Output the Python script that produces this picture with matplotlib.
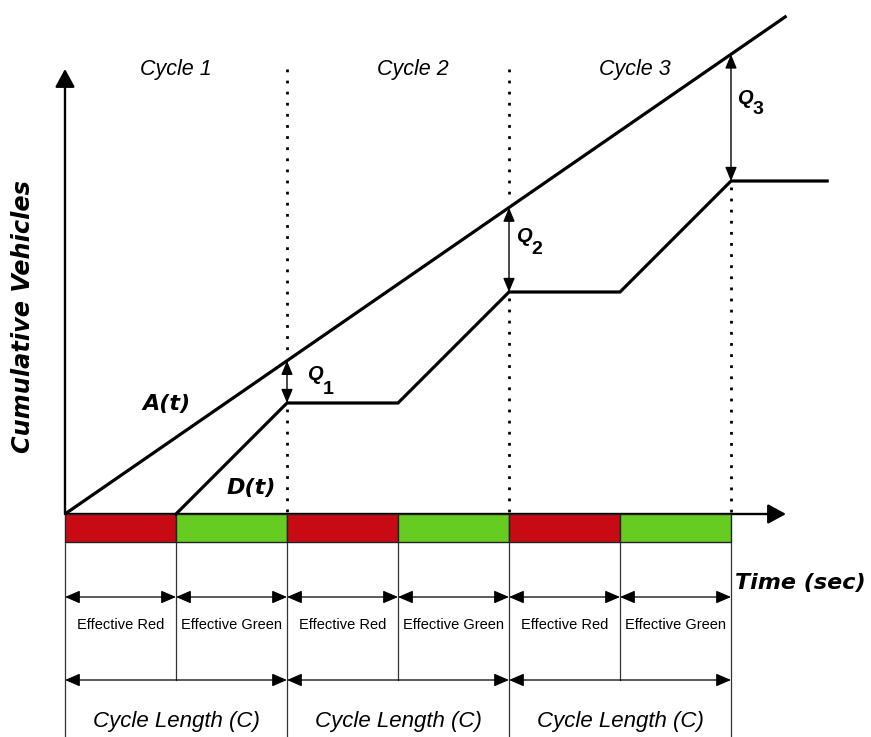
import matplotlib
matplotlib.use("Agg")
import matplotlib.pyplot as plt
from matplotlib.patches import Rectangle

# ---------------- data ----------------
cycle_length = 60          # sec
red_time = 30              # effective red (sec)
green_time = 30            # effective green (sec)
n_cycles = 3
cycle_labels = ["Cycle 1", "Cycle 2", "Cycle 3"]
phase_names = ["Effective Red", "Effective Green"]
phase_colors = ["#C80A14", "#66CC22"]

# arrival curve A(t)
arr_t = [0, 195]
arr_v = [0, 134.6]
# departure curve D(t)
dep_t = [0, 30, 60, 90, 120, 150, 180, 206]
dep_v = [0, 0, 30, 30, 60, 60, 90, 90]
# queue at the end of each cycle (A - D at t = 60, 120, 180)
queue_t = [60, 120, 180]
queue_top = [41.4, 82.8, 124.2]
queue_bot = [30, 60, 90]
queue_labels = ["1", "2", "3"]

# ---------------- figure ----------------
PX = 3.7  # pixels per unit
fig = plt.figure(figsize=(8.71, 7.37), dpi=100)
ax = fig.add_axes([0, 0, 1, 1])
ax.set_xlim((0 - 65) / PX, (871 - 65) / PX)
ax.set_ylim((514 - 737) / PX, (514 - 0) / PX)
ax.axis("off")

def vy(ypx):
    return (514 - ypx) / PX

def tx(xpx):
    return (xpx - 65) / PX

bold_font = ["DejaVu Sans"]
thin_font = ["Liberation Sans"]

# axes arrows
ax.annotate("", xy=(0, vy(69)), xytext=(0, 0),
            arrowprops=dict(arrowstyle="-|>,head_length=0.55,head_width=0.3",
                            mutation_scale=20, lw=1.7, color="black",
                            shrinkA=0, shrinkB=0))
ax.annotate("", xy=(tx(786), 0), xytext=(0, 0),
            arrowprops=dict(arrowstyle="-|>,head_length=0.55,head_width=0.3",
                            mutation_scale=20, lw=1.7, color="black",
                            shrinkA=0, shrinkB=0))

# signal phase bar
bar_h = 28 / PX
for c in range(n_cycles):
    start = c * cycle_length
    for k, (dur, col) in enumerate(zip([red_time, green_time], phase_colors)):
        s = start + (0 if k == 0 else red_time)
        ax.add_patch(Rectangle((s, -bar_h), dur, bar_h, facecolor=col,
                               edgecolor="#222222", lw=1.0, zorder=3))

# curves (D(t) drawn from the end of the first red, where it leaves the axis)
ax.plot(arr_t, arr_v, color="black", lw=2.3, solid_capstyle="butt", zorder=4)
ax.plot(dep_t[1:], dep_v[1:], color="black", lw=2.3, solid_joinstyle="miter",
        zorder=4)

# dotted cycle boundaries
for qt, top, bot in zip(queue_t, queue_top, queue_bot):
    ax.plot([qt, qt], [bot - 1.5, 0], color="black", lw=2.0,
            linestyle=(0, (1, 3)), zorder=2)
    if qt < 180:
        ax.plot([qt, qt], [vy(69), top + 1.5], color="black", lw=2.0,
                linestyle=(0, (1, 3)), zorder=2)

# queue arrows and labels
q_pos = [(315, 375), (524, 237), (745, 98)]
sub_pos = [(328, 389), (537, 250), (758, 110)]
for qt, top, bot, lab, qp, sp in zip(queue_t, queue_top, queue_bot,
                                     queue_labels, q_pos, sub_pos):
    ax.annotate("", xy=(qt, top), xytext=(qt, bot),
                arrowprops=dict(arrowstyle="<|-|>,head_length=0.6,head_width=0.25",
                                mutation_scale=14, lw=1.0, color="black",
                                shrinkA=0, shrinkB=0), zorder=5)
    ax.text(tx(qp[0]), vy(qp[1]), "Q", fontsize=14.5, fontweight="bold",
            style="italic", family=thin_font, ha="center", va="center")
    ax.text(tx(sp[0]), vy(sp[1]), lab, fontsize=14, fontweight="bold",
            family=thin_font, ha="center", va="center")

# cycle labels
cycle_x = [tx(176), tx(413), tx(635)]
for cx, lab in zip(cycle_x, cycle_labels):
    ax.text(cx, vy(70), lab, fontsize=15.5, style="italic", family=thin_font,
            ha="center", va="center")

# curve labels
ax.text(tx(167), vy(404), "A(t)", fontsize=16, fontweight="bold",
        style="italic", family=bold_font, ha="center", va="center")
ax.text(tx(251), vy(488), "D(t)", fontsize=16, fontweight="bold",
        style="italic", family=bold_font, ha="center", va="center")

# axis labels
ax.text(tx(23), vy(317), "Cumulative Vehicles", fontsize=17.3, fontweight="bold",
        style="italic", family=bold_font, ha="center", va="center", rotation=90)
ax.text(tx(735), vy(583), "Time (sec)", fontsize=16, fontweight="bold",
        style="italic", family=bold_font, ha="left", va="center")

# lower dimension lines
bounds = [c * cycle_length + off for c in range(n_cycles)
          for off in (0, red_time)] + [n_cycles * cycle_length]
for i, b in enumerate(bounds):
    low = vy(737) if i % 2 == 0 else vy(680)
    ax.plot([b, b], [-bar_h, low], color="#333333", lw=0.9, zorder=1)

y_phase = vy(597)
y_cycle = vy(680)
arrow_kw = dict(arrowstyle="<|-|>,head_length=0.65,head_width=0.28",
                mutation_scale=14, lw=0.9, color="black", shrinkA=0, shrinkB=0)
for i in range(len(bounds) - 1):
    a, b = bounds[i], bounds[i + 1]
    ax.annotate("", xy=(b, y_phase), xytext=(a, y_phase), arrowprops=arrow_kw)
    ax.text((a + b) / 2, vy(625), phase_names[i % 2], fontsize=10.5,
            family=thin_font, ha="center", va="center")
for c in range(n_cycles):
    a, b = c * cycle_length, (c + 1) * cycle_length
    ax.annotate("", xy=(b, y_cycle), xytext=(a, y_cycle), arrowprops=arrow_kw)
    ax.text((a + b) / 2, vy(722), "Cycle Length (C)", fontsize=16,
            style="italic", family=thin_font, ha="center", va="center")

fig.savefig("out.png", dpi=100)
